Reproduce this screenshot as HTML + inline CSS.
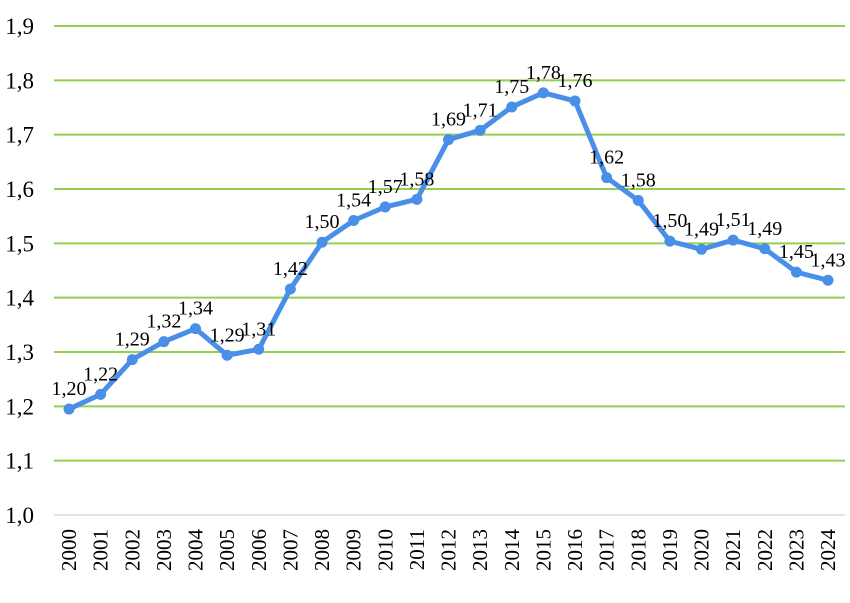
<!DOCTYPE html>
<html><head><meta charset="utf-8"><style>
body{margin:0;background:#fff;}
svg{display:block;font-family:"Liberation Serif",serif;}
</style></head><body>
<svg id="chart" width="850" height="603"></svg>
<script>
const years=["2000","2001","2002","2003","2004","2005","2006","2007","2008","2009","2010","2011","2012","2013","2014","2015","2016","2017","2018","2019","2020","2021","2022","2023","2024"];
const values=[1.195,1.222,1.286,1.319,1.343,1.294,1.305,1.416,1.502,1.542,1.567,1.581,1.691,1.708,1.751,1.777,1.762,1.621,1.579,1.504,1.489,1.506,1.490,1.447,1.432];
const labels=["1,20","1,22","1,29","1,32","1,34","1,29","1,31","1,42","1,50","1,54","1,57","1,58","1,69","1,71","1,75","1,78","1,76","1,62","1,58","1,50","1,49","1,51","1,49","1,45","1,43"];
const yTicks=[1.0,1.1,1.2,1.3,1.4,1.5,1.6,1.7,1.8,1.9];
const yTickLabels=["1,0","1,1","1,2","1,3","1,4","1,5","1,6","1,7","1,8","1,9"];
const NS="http://www.w3.org/2000/svg";
const svg=document.getElementById('chart');
const x=i=>69+i*(759/24);
const y=v=>515-(v-1.0)*(489/0.9);
function mk(t,a){const e=document.createElementNS(NS,t);for(const k in a)e.setAttribute(k,a[k]);svg.appendChild(e);return e;}
yTicks.forEach((t,i)=>{
  const g=mk('line',{x1:54,x2:845,y1:y(t),y2:y(t),stroke:i==0?'#e3e3e3':'#92d050','stroke-width':2});
  
  
  const l=mk('text',{x:34,y:y(t)+8,'text-anchor':'end','font-size':23,fill:'#000'});
  l.textContent=yTickLabels[i];
  
  
});
years.forEach((yr,i)=>{
  const t=mk('text',{transform:`translate(${x(i)+7},529) rotate(-90)`,'text-anchor':'end','font-size':21,fill:'#000'});
  t.textContent=yr;
  
  
});
const pl=mk('polyline',{points:values.map((v,i)=>x(i)+','+y(v)).join(' '),fill:'none',stroke:'#4a8fe7','stroke-width':5,'stroke-linejoin':'round'});


values.forEach((v,i)=>{
  const c=mk('circle',{cx:x(i),cy:y(v),r:5.5,fill:'#4a8fe7'});
  
  
  const t=mk('text',{x:x(i),y:y(v)-14,'text-anchor':'middle','font-size':20,fill:'#000'});
  t.textContent=labels[i];
  
  
});
</script>
</body></html>
